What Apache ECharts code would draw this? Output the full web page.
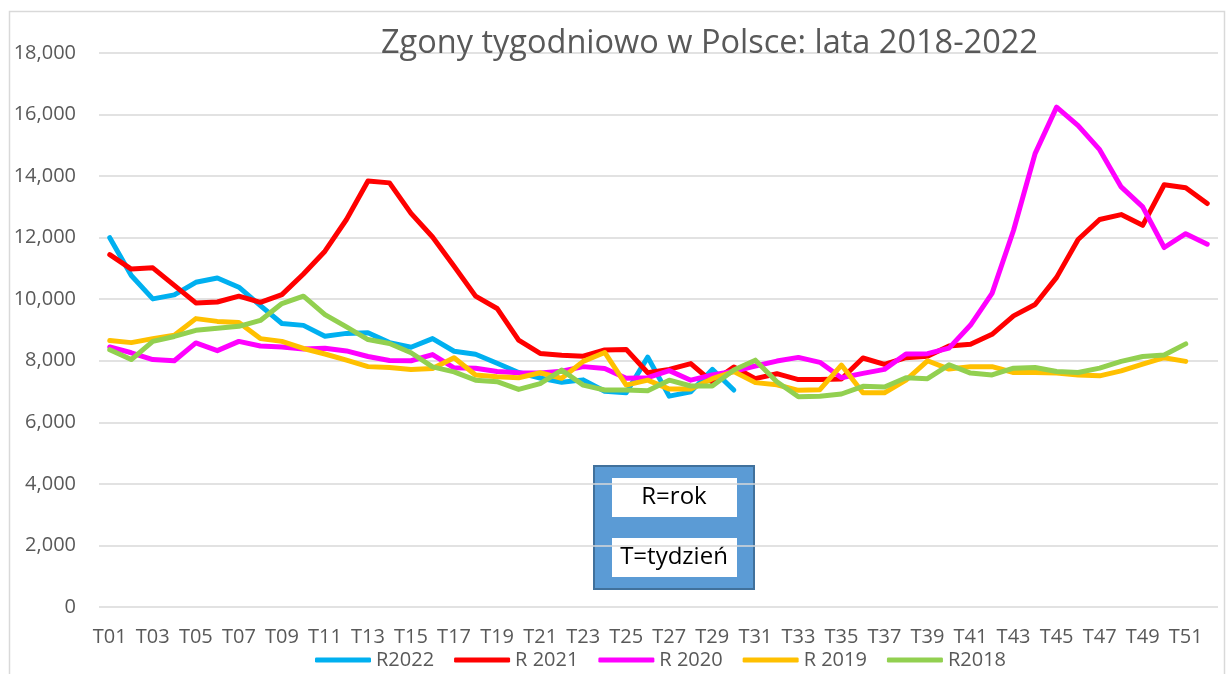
<!DOCTYPE html>
<html>
<head>
<meta charset="utf-8">
<title>Zgony tygodniowo w Polsce</title>
<script src="https://cdn.jsdelivr.net/npm/echarts@6/dist/echarts.min.js"></script>
<style>
  html, body { margin: 0; padding: 0; background: #fff; }
  #chart { width: 1228px; height: 674px; }
</style>
</head>
<body>
<div id="chart"></div>
<script>
  // tygodnie T01..T52
  const weeks = ['T01','T02','T03','T04','T05','T06','T07','T08','T09','T10',
    'T11','T12','T13','T14','T15','T16','T17','T18','T19','T20',
    'T21','T22','T23','T24','T25','T26','T27','T28','T29','T30',
    'T31','T32','T33','T34','T35','T36','T37','T38','T39','T40',
    'T41','T42','T43','T44','T45','T46','T47','T48','T49','T50',
    'T51','T52'];

  const r2022 = [12000, 10770, 10010, 10140, 10550, 10690, 10390, 9790, 9210, 9150,
    8800, 8890, 8910, 8590, 8440, 8720, 8310, 8210, 7920, 7620,
    7440, 7300, 7380, 7010, 6960, 8120, 6850, 6990, 7720, 7050];

  const r2021 = [11450, 10980, 11020, 10450, 9880, 9910, 10100, 9900, 10150, 10820,
    11560, 12590, 13840, 13780, 12790, 12020, 11070, 10100, 9700, 8670,
    8240, 8180, 8150, 8350, 8370, 7610, 7720, 7910, 7310, 7800,
    7420, 7580, 7390, 7390, 7410, 8090, 7880, 8100, 8150, 8480,
    8540, 8860, 9460, 9830, 10710, 11940, 12590, 12750, 12400, 13720,
    13620, 13110];

  const r2020 = [8450, 8260, 8040, 8000, 8580, 8330, 8630, 8480, 8450, 8380,
    8410, 8320, 8140, 8010, 8000, 8200, 7770, 7760, 7650, 7610,
    7600, 7660, 7810, 7750, 7430, 7450, 7680, 7370, 7540, 7660,
    7830, 7990, 8110, 7950, 7450, 7590, 7720, 8220, 8230, 8410,
    9160, 10190, 12240, 14730, 16240, 15640, 14860, 13650, 13000, 11680,
    12130, 11790];

  const r2019 = [8660, 8590, 8720, 8830, 9370, 9280, 9240, 8720, 8630, 8400,
    8220, 8020, 7810, 7780, 7720, 7750, 8100, 7540, 7480, 7450,
    7610, 7430, 7980, 8270, 7210, 7370, 7080, 7080, 7420, 7650,
    7290, 7220, 7040, 7060, 7860, 6960, 6960, 7370, 8000, 7730,
    7810, 7810, 7620, 7620, 7600, 7540, 7510, 7670, 7890, 8100,
    7980];

  const r2018 = [8360, 8040, 8630, 8790, 8990, 9060, 9120, 9310, 9860, 10100,
    9500, 9100, 8690, 8560, 8260, 7800, 7640, 7370, 7320, 7070,
    7260, 7700, 7210, 7050, 7050, 7030, 7370, 7180, 7180, 7700,
    8020, 7320, 6830, 6850, 6920, 7170, 7150, 7450, 7420, 7870,
    7600, 7540, 7760, 7780, 7650, 7620, 7760, 7980, 8140, 8190,
    8550];

  const seriesNames = ['R2022', 'R 2021', 'R 2020', 'R 2019', 'R2018'];
  const seriesData = [r2022, r2021, r2020, r2019, r2018];
  const colors = ['#00b0f0', '#ff0000', '#ff00ff', '#ffc000', '#92d050'];

  const FONT = '"Open Sans", sans-serif';
  const GREY = '#595959';

  const myChart = echarts.init(document.getElementById('chart'));

  myChart.setOption({
    animation: false,
    color: colors,
    textStyle: { fontFamily: FONT },
    title: {
      text: 'Zgony tygodniowo w Polsce: lata 2018-2022',
      left: 376,
      top: 22,
      textStyle: { fontFamily: FONT, fontSize: 32.5, fontWeight: 'normal', color: GREY }
    },
    legend: {
      bottom: -1,
      left: 310,
      icon: 'roundRect',
      itemWidth: 56,
      itemHeight: 5,
      itemGap: 20,
      textStyle: { fontFamily: FONT, fontSize: 20, color: GREY },
      data: seriesNames
    },
    grid: { left: 99, right: 10, top: 53, bottom: 67, containLabel: false },
    xAxis: {
      type: 'category',
      data: weeks,
      boundaryGap: true,
      axisLine: { show: false },
      axisTick: { show: false },
      axisLabel: { interval: 1, margin: 20, fontSize: 20, color: GREY, fontFamily: FONT }
    },
    yAxis: {
      type: 'value',
      min: 0,
      max: 18000,
      interval: 2000,
      axisLine: { show: false },
      axisTick: { show: false },
      axisLabel: {
        margin: 23, fontSize: 20, color: GREY, fontFamily: FONT,
        formatter: v => v.toLocaleString('en-US')
      },
      splitLine: { lineStyle: { color: '#d9d9d9', width: 1.5 } }
    },
    series: seriesNames.map((name, i) => ({
      name: name,
      type: 'line',
      data: seriesData[i],
      symbol: 'none',
      lineStyle: { width: 5, color: colors[i], cap: 'round', join: 'round' },
      z: 2 + i
    })),
    graphic: [
      // ramka wykresu
      {
        type: 'rect', left: 7, top: 9, silent: true,
        shape: { width: 1215, height: 700 },
        style: { fill: 'none', stroke: '#d9d9d9', lineWidth: 1.5 }
      },
      // legenda R / T
      {
        type: 'group', left: 593, top: 465, z: 100,
        children: [
          { type: 'rect', shape: { x: 0, y: 0, width: 160, height: 123 },
            style: { fill: '#5b9bd5', stroke: '#41719c', lineWidth: 2 } },
          { type: 'rect', shape: { x: 18, y: 12, width: 125, height: 39 },
            style: { fill: '#fff' } },
          { type: 'rect', shape: { x: 18, y: 72, width: 125, height: 39 },
            style: { fill: '#fff' } },
          { type: 'text', x: 80, y: 31.5,
            style: { text: 'R=rok', fontFamily: FONT, fontSize: 24, fill: '#000', align: 'center', verticalAlign: 'middle' } },
          { type: 'text', x: 80, y: 91.5,
            style: { text: 'T=tydzień', fontFamily: FONT, fontSize: 24, fill: '#000', align: 'center', verticalAlign: 'middle' } }
        ]
      }
    ]
  });
</script>
</body>
</html>
